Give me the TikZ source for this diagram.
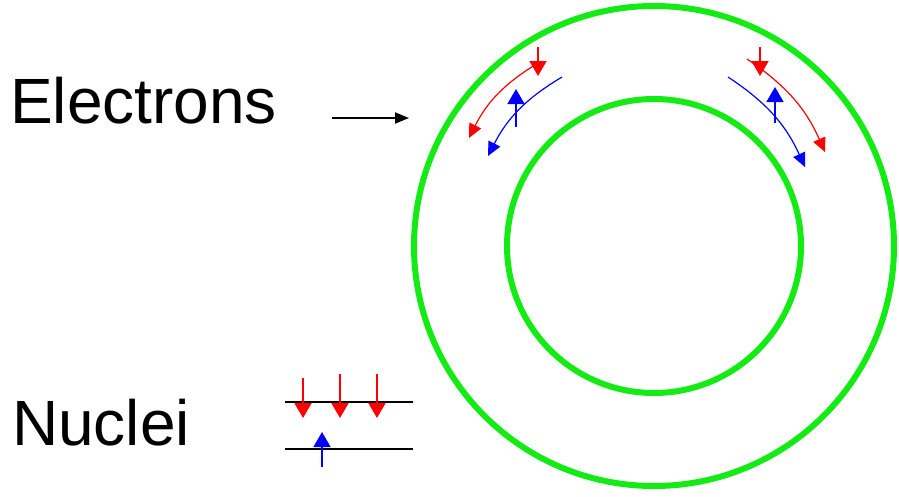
\documentclass[tikz,border=0pt]{standalone}
\usepackage{fontspec}
\setmainfont{Liberation Sans}
\usetikzlibrary{arrows.meta}
\definecolor{ringgreen}{RGB}{20,235,20}
\definecolor{spinred}{RGB}{255,0,0}
\definecolor{spinblue}{RGB}{0,0,255}
\tikzset{
  ring/.style={draw=ringgreen, line width=6pt},
  biglabel/.style={inner sep=0pt, anchor=base west, font=\fontsize{64}{64}\selectfont},
  bigspin/.style={line width=1.6pt, -{Triangle[width=17pt,length=15pt]}},
  curvespin/.style={line width=1.2pt, -{Triangle[width=13pt,length=14pt]}},
  pointer/.style={line width=1.8pt, -{Triangle[width=11pt,length=14pt]}},
  level/.style={line width=1.8pt}
}
\begin{document}
\begin{tikzpicture}[x=1pt,y=-1pt]
\useasboundingbox (0,0) rectangle (899,496);
% rings
\node[ring, circle, minimum size=480pt, inner sep=0pt] (outer) at (654,246) {};
\node[ring, circle, minimum size=294pt, inner sep=0pt] (inner) at (654,246) {};
% labels
\node[biglabel] (electrons) at (10,123) {Electrons};
\node[biglabel] (nuclei) at (12,445) {Nuclei};
% electrons pointer
\coordinate (ea) at (332,118);
\coordinate (eb) at (409,118);
\draw[pointer] (ea) -- (eb);
% top-left spins
\coordinate (lrs) at (538,47);
\coordinate (lrt) at (538,76);
\draw[spinred, bigspin] (lrs) -- (lrt);
\coordinate (lca) at (538,63);
\coordinate (lcb) at (469,138);
\draw[spinred, curvespin] (lca) to[bend right=16] (lcb);
\coordinate (lbs) at (516,127);
\coordinate (lbt) at (516,89);
\draw[spinblue, bigspin] (lbs) -- (lbt);
\coordinate (lda) at (562,77);
\coordinate (ldb) at (488,156);
\draw[spinblue, curvespin] (lda) to[bend right=16] (ldb);
% top-right spins
\coordinate (rrs) at (760,47);
\coordinate (rrt) at (760,76);
\draw[spinred, bigspin] (rrs) -- (rrt);
\coordinate (rca) at (747,59);
\coordinate (rcb) at (825,152);
\draw[spinred, curvespin] (rca) to[bend left=16] (rcb);
\coordinate (rbs) at (775,123);
\coordinate (rbt) at (775,87);
\draw[spinblue, bigspin] (rbs) -- (rbt);
\coordinate (rda) at (728,77);
\coordinate (rdb) at (805,167);
\draw[spinblue, curvespin] (rda) to[bend left=16] (rdb);
% nuclei legend
\coordinate (l1a) at (285,402);
\coordinate (l1b) at (413,402);
\draw[level] (l1a) -- (l1b);
\coordinate (l2a) at (285,449);
\coordinate (l2b) at (413,449);
\draw[level] (l2a) -- (l2b);
\coordinate (n1s) at (303,378);
\coordinate (n1t) at (303,418);
\coordinate (n2s) at (340,374);
\coordinate (n2t) at (340,418);
\coordinate (n3s) at (377,374);
\coordinate (n3t) at (377,418);
\draw[spinred, bigspin] (n1s) -- (n1t);
\draw[spinred, bigspin] (n2s) -- (n2t);
\draw[spinred, bigspin] (n3s) -- (n3t);
\coordinate (n4s) at (322,467);
\coordinate (n4t) at (322,432);
\draw[spinblue, bigspin] (n4s) -- (n4t);
\end{tikzpicture}
\end{document}
